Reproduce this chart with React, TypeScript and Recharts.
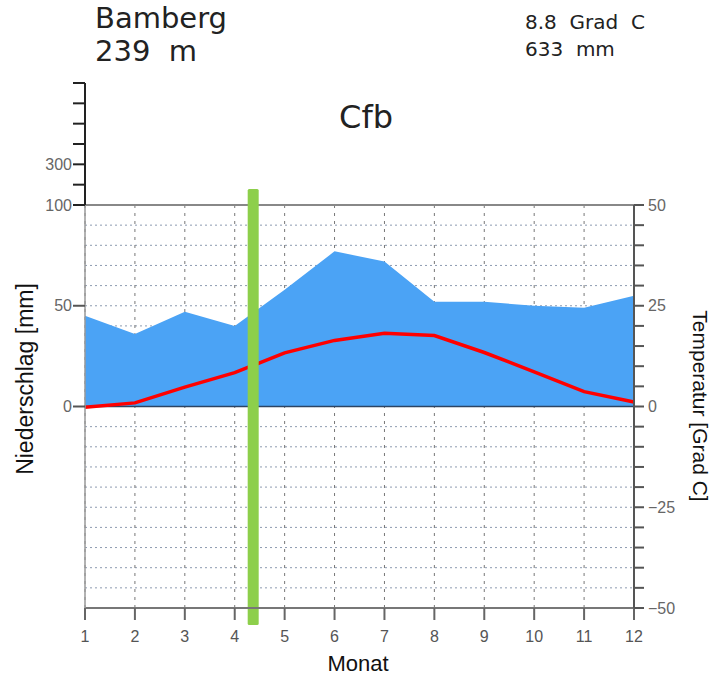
import {
  CartesianGrid,
  ComposedChart,
  Area,
  Line,
  XAxis,
  YAxis,
  ReferenceLine,
} from 'recharts';

const months = [1, 2, 3, 4, 5, 6, 7, 8, 9, 10, 11, 12];
const precipitation = [45, 36, 47, 40, 58, 77, 72, 52, 52, 50, 49, 55];
const temperature = [-0.2, 0.9, 4.8, 8.4, 13.3, 16.4, 18.2, 17.6, 13.4, 8.6, 3.7, 1.1];

const precipTicks = [0, 50, 100];
const upperPrecipTicks = [100, 200, 300, 400, 500, 600, 700];
const tempTicks = [-50, -45, -40, -35, -30, -25, -20, -15, -10, -5, 0, 5, 10, 15, 20, 25, 30, 35, 40, 45, 50];
const markerMonth = 4.37;

const data = months.map((m, i) => ({
  month: m,
  precip: precipitation[i],
  temp: temperature[i],
}));

const font = '"Liberation Sans", Arial, sans-serif';
const titleFont = '"DejaVu Sans", sans-serif';

const fmtTemp = (v: number) => (v % 25 === 0 ? (v < 0 ? `\u2212${-v}` : `${v}`) : '');

const MarkerShape = (p: any) => {
  const top = Math.min(p.y1, p.y2) - 16;
  const bottom = Math.max(p.y1, p.y2) + 17;
  return <rect x={p.x1 - 5.5} y={top} width={11} height={bottom - top} rx={1.5} fill="#8dcf4b" />;
};

const App = () => {
  return (
    <div style={{ position: 'absolute', left: 0, top: 0, width: 713, height: 678, background: '#fff' }}>
      <div style={{ position: 'absolute', left: 0, top: 0 }}>
        <ComposedChart
          width={713}
          height={678}
          data={data}
          margin={{ top: 205, right: 19, bottom: 30, left: 25 }}
        >
          <Area
            yAxisId="p"
            dataKey="precip"
            type="linear"
            baseValue={0}
            stroke="none"
            fill="#4ba3f5"
            fillOpacity={1}
            isAnimationActive={false}
          />
          <CartesianGrid
            yAxisId="t"
            vertical={false}
            stroke="#8d9bb0"
            strokeDasharray="2 3"
          />
          <CartesianGrid
            yAxisId="t"
            horizontal={false}
            stroke="#777"
            strokeDasharray="3 5"
          />
          <ReferenceLine yAxisId="t" y={50} stroke="#888" strokeWidth={2} />
          <ReferenceLine yAxisId="t" y={0} stroke="#2c4463" strokeWidth={1.5} />
          <Line
            yAxisId="t"
            dataKey="temp"
            type="linear"
            stroke="#ff0000"
            strokeWidth={3.5}
            dot={false}
            isAnimationActive={false}
          />
          <XAxis
            dataKey="month"
            type="number"
            domain={[1, 12]}
            ticks={months}
            height={40}
            tickSize={12}
            tickMargin={11}
            axisLine={{ stroke: '#777', strokeWidth: 2 }}
            tickLine={{ stroke: '#666', strokeWidth: 2 }}
            tick={{ fill: '#555', fontSize: 16, fontFamily: font }}
            interval={0}
          />
          <YAxis
            yAxisId="p"
            orientation="left"
            type="number"
            domain={[-100, 100]}
            ticks={precipTicks}
            width={60}
            tickSize={12}
            tickMargin={1}
            axisLine={{ stroke: '#999', strokeWidth: 1.5 }}
            tickLine={{ stroke: '#555', strokeWidth: 2 }}
            tick={{ fill: '#666', fontSize: 16, fontFamily: font }}
            interval={0}
          />
          <YAxis
            yAxisId="t"
            orientation="right"
            type="number"
            domain={[-50, 50]}
            ticks={tempTicks}
            tickFormatter={fmtTemp}
            width={60}
            tickSize={10}
            tickMargin={4}
            axisLine={{ stroke: '#555', strokeWidth: 2 }}
            tickLine={{ stroke: '#555', strokeWidth: 2 }}
            tick={{ fill: '#666', fontSize: 16, fontFamily: font }}
            interval={0}
          />
          <ReferenceLine yAxisId="t" x={markerMonth} shape={MarkerShape} />
        </ComposedChart>
      </div>

      <div style={{ position: 'absolute', left: 0, top: 0 }}>
        <ComposedChart
          width={713}
          height={215}
          data={data}
          margin={{ top: 83, right: 19, bottom: 10, left: 25 }}
        >
          <XAxis dataKey="month" type="number" domain={[1, 12]} hide height={0} />
          <YAxis
            yAxisId="u"
            type="number"
            domain={[100, 700]}
            allowDataOverflow
            ticks={upperPrecipTicks}
            tickFormatter={(v: number) => (v === 300 ? '300' : '')}
            width={60}
            tickSize={12}
            tickMargin={1}
            axisLine={{ stroke: '#222', strokeWidth: 2 }}
            tickLine={{ stroke: '#222', strokeWidth: 2 }}
            tick={{ fill: '#666', fontSize: 16, fontFamily: font }}
            interval={0}
          />
        </ComposedChart>
      </div>

      <div style={{ position: 'absolute', left: 95, top: 4, fontFamily: titleFont, fontSize: 29, lineHeight: '29px', color: '#222' }}>
        Bamberg
      </div>
      <div style={{ position: 'absolute', left: 95, top: 37, fontFamily: titleFont, fontSize: 29, lineHeight: '29px', color: '#222' }}>
        239&nbsp;&nbsp;m
      </div>
      <div style={{ position: 'absolute', left: 525, top: 9, fontFamily: titleFont, fontSize: 20, lineHeight: '27px', color: '#222', whiteSpace: 'pre' }}>
        <div>8.8  Grad  C</div>
        <div>633  mm</div>
      </div>
      <div style={{ position: 'absolute', left: 0, width: 732, top: 98, textAlign: 'center', fontFamily: titleFont, fontSize: 32, color: '#222' }}>
        Cfb
      </div>
      <div
        style={{
          position: 'absolute',
          left: 25,
          top: 379,
          transform: 'translate(-50%, -50%) rotate(-90deg)',
          fontFamily: font,
          fontSize: 23,
          color: '#111',
          whiteSpace: 'nowrap',
        }}
      >
        Niederschlag [mm]
      </div>
      <div
        style={{
          position: 'absolute',
          left: 700,
          top: 406,
          transform: 'translate(-50%, -50%) rotate(90deg)',
          fontFamily: font,
          fontSize: 21,
          lineHeight: '22px',
          color: '#111',
          whiteSpace: 'nowrap',
        }}
      >
        Temperatur [Grad C]
      </div>
      <div style={{ position: 'absolute', left: 0, width: 716, top: 651, textAlign: 'center', fontFamily: font, fontSize: 22, color: '#111' }}>
        Monat
      </div>
    </div>
  );
};

export default App;
